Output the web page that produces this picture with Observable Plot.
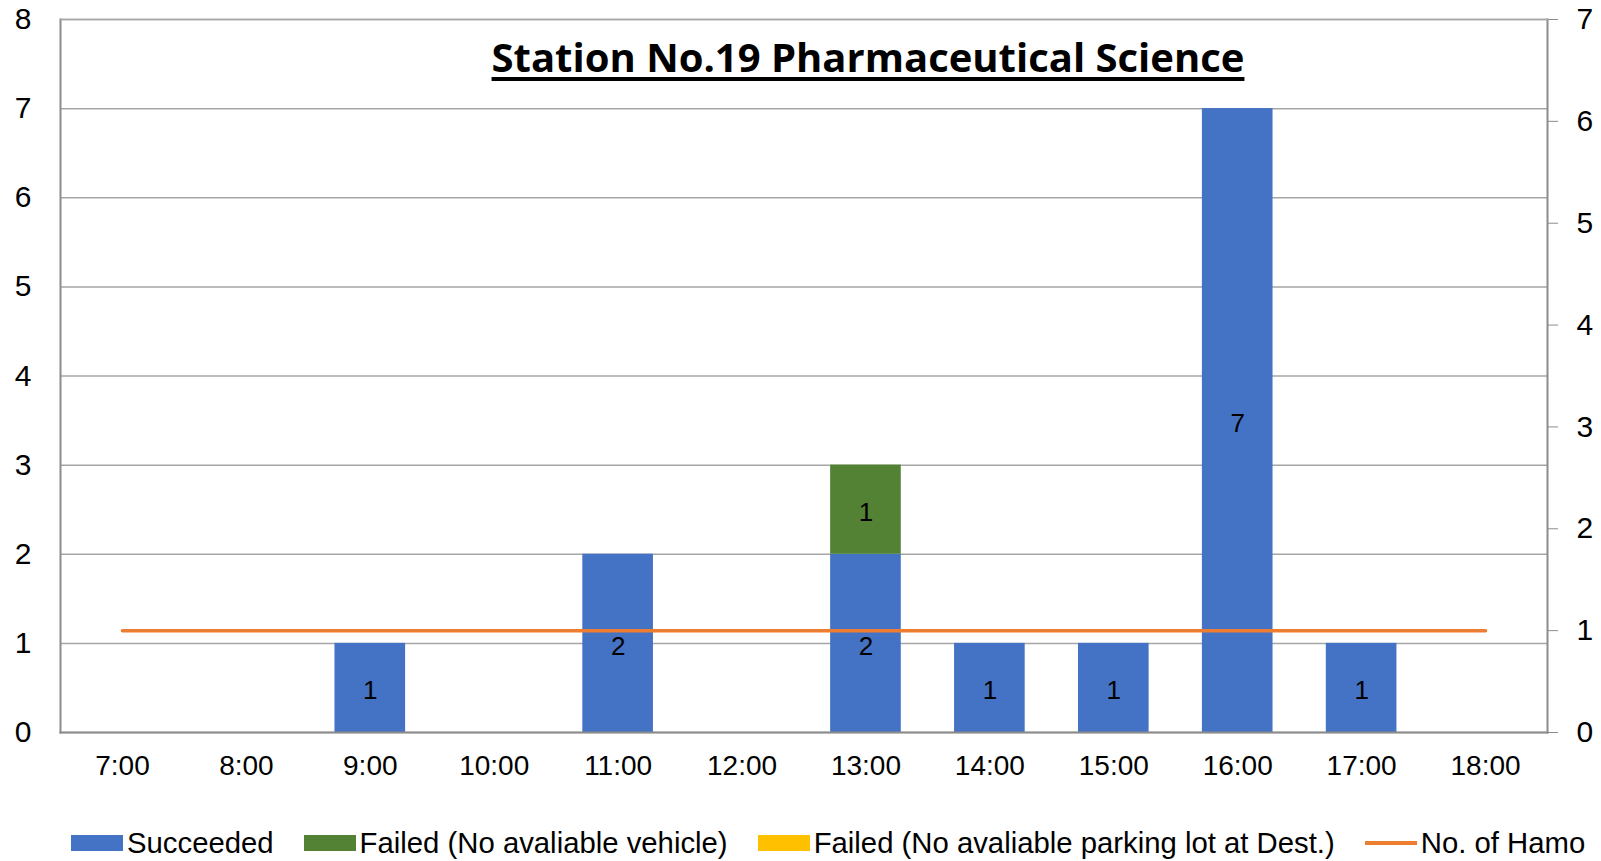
<!DOCTYPE html>
<html>
<head>
<meta charset="utf-8">
<script src="https://cdn.jsdelivr.net/npm/d3@7"></script>
<script src="https://cdn.jsdelivr.net/npm/@observablehq/plot@0.6"></script>
<style>
  html, body { margin: 0; padding: 0; background: #fff; }
  #wrap { position: relative; width: 1601px; height: 861px; font-family: "Liberation Sans", Arial, sans-serif; }
  #title { position: absolute; left: 0; top: 37px; width: 1736px; text-align: center; font-family: "Open Sans", sans-serif; font-weight: 700; font-size: 40px; text-decoration: underline; text-decoration-thickness: 4px; text-underline-offset: 5px; color: #000; line-height: 1; }
  #legend { position: absolute; left: 71px; top: 826px; display: flex; align-items: center; gap: 30px; font-size: 29.3px; color: #000; white-space: nowrap; }
  .item { display: flex; align-items: center; gap: 4px; }
  .sw { width: 52px; height: 16px; }
  .ln { width: 52px; height: 4px; }
</style>
</head>
<body>
<div id="wrap">
  <div id="chart"></div>
  <div id="title"></div>
  <div id="legend"></div>
</div>
<script>
const title = "Station No.19 Pharmaceutical Science";
const hours = ["7:00","8:00","9:00","10:00","11:00","12:00","13:00","14:00","15:00","16:00","17:00","18:00"];
const succeeded     = [0,0,1,0,2,0,2,1,1,7,1,0];
const failedVehicle = [0,0,0,0,0,0,1,0,0,0,0,0];
const failedParking = [0,0,0,0,0,0,0,0,0,0,0,0];
const hamo          = [1,1,1,1,1,1,1,1,1,1,1,1];
const leftTicks  = [0,1,2,3,4,5,6,7,8];
const rightTicks = [0,1,2,3,4,5,6,7];
const leftMax = 8, rightMax = 7;

const seriesNames = ["Succeeded", "Failed (No avaliable vehicle)", "Failed (No avaliable parking lot at Dest.)"];
const seriesColors = ["#4472C4", "#548235", "#FFC000"];
const lineName = "No. of Hamo";
const lineColor = "#ED7D31";

const rows = [];
[succeeded, failedVehicle, failedParking].forEach((arr, si) => {
  arr.forEach((v, i) => rows.push({hour: hours[i], series: seriesNames[si], value: v}));
});
const lineRows = hours.map((h, i) => ({hour: h, value: hamo[i] * leftMax / rightMax}));

const chart = Plot.plot({
  width: 1601,
  height: 800,
  marginLeft: 60,
  marginRight: 54,
  marginTop: 19,
  marginBottom: 68,
  style: {fontFamily: "'Liberation Sans', Arial, sans-serif", color: "#000", background: "#fff"},
  x: {domain: hours, paddingInner: 0.43, paddingOuter: 0.215, round: false},
  y: {domain: [0, leftMax]},
  color: {domain: seriesNames, range: seriesColors},
  marks: [
    Plot.ruleY(leftTicks, {stroke: "#a6a6a6", strokeWidth: 1.5}),
    Plot.barY(rows, Plot.stackY({x: "hour", y: "value", z: "series", fill: "series", order: seriesNames})),
    Plot.text(rows, Plot.stackY({x: "hour", y: "value", z: "series", order: seriesNames, text: d => d.value > 0 ? String(d.value) : null, fontSize: 26, dy: 3, fill: "#000"})),
    Plot.lineY(lineRows, {x: "hour", y: "value", stroke: lineColor, strokeWidth: 3.5}),
    Plot.frame({stroke: "#8c8c8c", strokeWidth: 2, anchor: "left"}),
    Plot.frame({stroke: "#8c8c8c", strokeWidth: 2, anchor: "right"}),
    Plot.frame({stroke: "#8c8c8c", strokeWidth: 2, anchor: "bottom"}),
    Plot.frame({stroke: "#a6a6a6", strokeWidth: 1.5, anchor: "top"}),
    Plot.axisY({ticks: leftTicks, tickSize: 0, tickPadding: 29, fontSize: 30, anchor: "left", label: null}),
    Plot.axisY({anchor: "right", ticks: rightTicks.map(t => t * leftMax / rightMax), tickFormat: d => String(Math.round(d * rightMax / leftMax)), tickSize: 10, tickPadding: 19, fontSize: 30, stroke: "#8c8c8c", label: null}),
    Plot.axisX({tickSize: 0, tickPadding: 23, fontSize: 28, label: null})
  ]
});
document.getElementById("chart").appendChild(chart);
document.getElementById("title").textContent = title;

const legend = document.getElementById("legend");
seriesNames.forEach((n, i) => {
  const it = document.createElement("div"); it.className = "item";
  const sw = document.createElement("div"); sw.className = "sw"; sw.style.background = seriesColors[i];
  const tx = document.createElement("span"); tx.textContent = n;
  it.appendChild(sw); it.appendChild(tx); legend.appendChild(it);
});
{
  const it = document.createElement("div"); it.className = "item";
  const sw = document.createElement("div"); sw.className = "ln"; sw.style.background = lineColor;
  const tx = document.createElement("span"); tx.textContent = lineName;
  it.appendChild(sw); it.appendChild(tx); legend.appendChild(it);
}
</script>
</body>
</html>
